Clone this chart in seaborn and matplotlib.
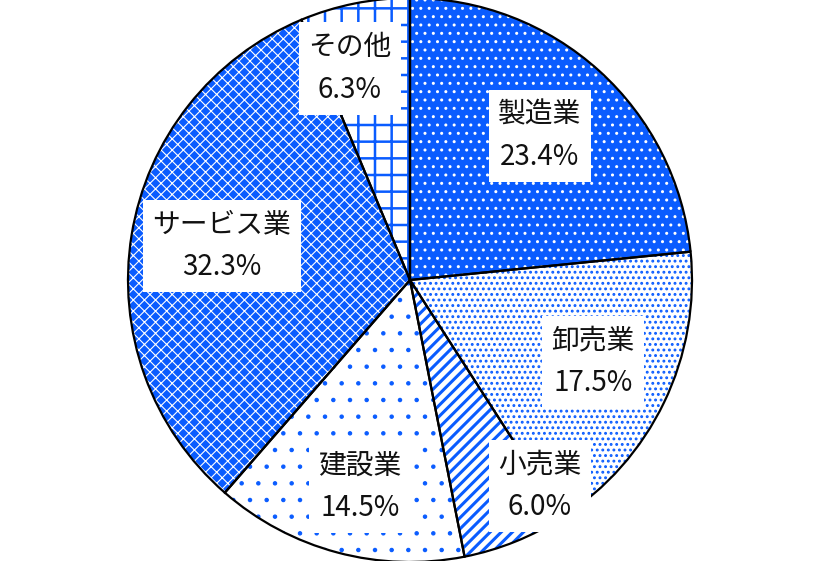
import matplotlib
matplotlib.use("Agg")
import matplotlib.pyplot as plt
import seaborn as sns

sns.set_theme(style="white")
plt.rcParams['font.family'] = ['Noto Sans CJK JP', 'DejaVu Sans']

categories = ["製造業", "卸売業", "小売業", "建設業", "サービス業", "その他"]
shares = [23.4, 17.5, 6.0, 14.5, 32.3, 6.3]
value_labels = ["23.4%", "17.5%", "6.0%", "14.5%", "32.3%", "6.3%"]

BLUE = "#0a5cff"
face_colors = [BLUE, "white", "white", "white", BLUE, "white"]
hatch_colors = ["white", BLUE, BLUE, BLUE, "white", BLUE]
hatches = ["..", "...", "///", ".", "xxx", "+"]
hatch_lw = [1.0, 1.3, 2.2, 0.8, 0.8, 1.8]
# label positions (data units, pie radius = 1)
label_pos = [(0.461, 0.512), (0.649, -0.291), (0.461, -0.730),
             (-0.177, -0.734), (-0.667, 0.120), (-0.213, 0.750)]

fig = plt.figure(figsize=(8.21, 5.61), dpi=100)
R = 282
cx, cy = 410, 280
ax = fig.add_axes([(cx - R) / 821, (561 - cy - R) / 561, 2 * R / 821, 2 * R / 561])

kw = dict(startangle=90, counterclock=False, radius=1.0)
# base fill
w1, _ = ax.pie(shares, colors=face_colors, wedgeprops=dict(linewidth=0), **kw)
# hatch layer
w2, _ = ax.pie(shares, colors=["none"] * len(shares), wedgeprops=dict(linewidth=0), **kw)
for w, h, hc, lw in zip(w2, hatches, hatch_colors, hatch_lw):
    w.set_facecolor("none")
    w.set_edgecolor(hc)
    w.set_hatch(h)
    if hasattr(w, "set_hatch_linewidth"):
        w.set_hatch_linewidth(lw)
# outline layer
w3, _ = ax.pie(shares, colors=["none"] * len(shares),
               wedgeprops=dict(linewidth=1.6, edgecolor="black", facecolor="none"), **kw)

ax.set_xlim(-1, 1)
ax.set_ylim(-1, 1)
ax.set_aspect("equal")
ax.axis("off")

for cat, lab, (x, y) in zip(categories, value_labels, label_pos):
    ax.text(x, y, f"{cat}\n{lab}", ha="center", va="center", fontsize=20,
            linespacing=1.55, color="#111111",
            bbox=dict(boxstyle="square,pad=0.35", facecolor="white", edgecolor="none"))

fig.savefig("out.png", dpi=100)
